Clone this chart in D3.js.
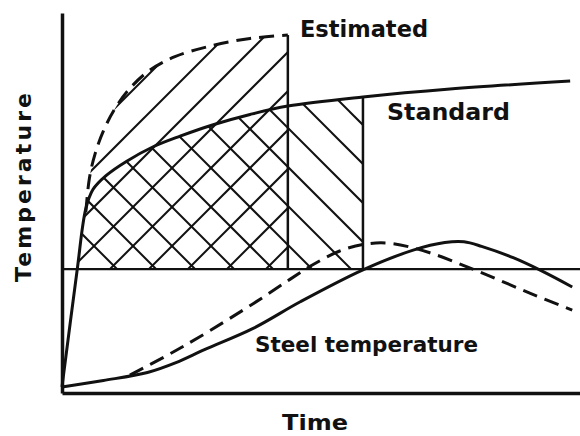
<!DOCTYPE html>
<html>
<head>
<meta charset="utf-8">
<script src="https://cdn.jsdelivr.net/npm/d3@7"></script>
<style>
  body { margin: 0; background: #fff; }
  text { font-family: "DejaVu Sans", sans-serif; font-weight: bold; fill: #111; }
</style>
</head>
<body>
<div id="chart"></div>
<script>
// time and temperature in arbitrary units (0-100)
const standardCurve = [[0, 1.6], [2.9, 32.1], [4.6, 48.5], [6.0, 53.6], [8.5, 57.2], [12.5, 61.0],
  [17.6, 64.8], [22.8, 67.6], [29.2, 70.6], [36.3, 73.3], [43.6, 75.5], [58.1, 77.9], [74.9, 80.0], [98.1, 82.1]];
const estimatedCurve = [[4.6, 47.6], [5.3, 56.6], [6.4, 63.0], [8.0, 69.0], [10.3, 75.0], [13.2, 80.3],
  [17.0, 85.0], [21.8, 88.5], [28.6, 91.3], [36.3, 93.3], [43.6, 94.2]];
const steelStandard = [[0, 1.6], [8.0, 3.3], [16.5, 5.4], [22.0, 8.0], [27.5, 11.4], [36.9, 17.0],
  [46.0, 24.0], [58.1, 32.4], [67.8, 37.6], [73.9, 39.6], [77.6, 39.8], [81.0, 38.6], [87.1, 35.6],
  [92.5, 32.2], [98.5, 27.9]];
const steelEstimated = [[13.1, 4.7], [19.9, 9.6], [26.6, 14.8], [36.9, 23.5], [44.0, 29.9], [48.5, 33.8],
  [53.5, 37.3], [58.1, 39.1], [63.3, 39.4], [71.0, 36.9], [80.7, 31.8], [90.3, 26.3], [98.5, 21.8]];
const criticalTemp = 32.6;   // horizontal line
const estimatedEnd = 43.6;   // end of estimated fire
const standardCut = 58.1;    // equivalent standard duration
const hatchStart = 2.9;

var width = 580, height = 436;
var svg = d3.select('#chart').append('svg')
	.attr('width', width)
	.attr('height', height);

var x = d3.scaleLinear().domain([0, 100]).range([62, 580]);
var y = d3.scaleLinear().domain([0, 100]).range([393, 13]);

var curve = d3.curveCatmullRom.alpha(0.5);

var line = d3.line()
	.x(function(d) { return x(d[0]); })
	.y(function(d) { return y(d[1]); })
	.curve(curve);

var area = d3.area()
	.x(function(d) { return x(d[0]); })
	.y0(y(criticalTemp))
	.y1(function(d) { return y(d[1]); })
	.curve(curve);

// clip regions for the hatching
var defs = svg.append('defs');
var clipStd = defs.append('clipPath').attr('id', 'under-std');
clipStd.append('path').attr('d', area(standardCurve));
var clipEst = defs.append('clipPath').attr('id', 'under-est');
clipEst.append('path').attr('d', area(standardCurve));
clipEst.append('path').attr('d', area(estimatedCurve));

function boxClip(id, t1) {
	defs.append('clipPath').attr('id', id).append('rect')
		.attr('x', x(hatchStart)).attr('width', x(t1) - x(hatchStart))
		.attr('y', y(100)).attr('height', y(criticalTemp) - y(100));
}
boxClip('box-est', estimatedEnd);
boxClip('box-std', standardCut);

var gap = 39;
var ks = d3.range(-16, 16);

// "/" hatching under the estimated curve
var g1 = svg.append('g').attr('clip-path', 'url(#box-est)')
	.append('g').attr('clip-path', 'url(#under-est)');
g1.selectAll('line').data(ks).enter().append('line')
	.attr('x1', 0).attr('x2', width)
	.attr('y1', function(k) { return 340 + gap * k; })
	.attr('y2', function(k) { return 340 + gap * k - width; })
	.attr('stroke', '#111').attr('stroke-width', 2);

// "\" hatching under the standard curve
var g2 = svg.append('g').attr('clip-path', 'url(#box-std)')
	.append('g').attr('clip-path', 'url(#under-std)');
g2.selectAll('line').data(ks).enter().append('line')
	.attr('x1', 0).attr('x2', width)
	.attr('y1', function(k) { return -199 + gap * k; })
	.attr('y2', function(k) { return -199 + gap * k + width; })
	.attr('stroke', '#111').attr('stroke-width', 2);

// axes (no ticks)
svg.append('g')
	.attr('transform', 'translate(0,' + y(0) + ')')
	.call(d3.axisBottom(x).ticks(0).tickSizeOuter(0))
	.select('.domain').attr('stroke', '#111').attr('stroke-width', 3.5);
svg.append('g')
	.attr('transform', 'translate(' + x(0) + ',0)')
	.call(d3.axisLeft(y).ticks(0).tickSizeOuter(0))
	.select('.domain').attr('stroke', '#111').attr('stroke-width', 3.5);

// horizontal and vertical reference lines
svg.append('line')
	.attr('x1', x(0)).attr('x2', x(100))
	.attr('y1', y(criticalTemp)).attr('y2', y(criticalTemp))
	.attr('stroke', '#111').attr('stroke-width', 2.2);

var estTop = estimatedCurve[estimatedCurve.length - 1][1];
var stdAtCut = standardCurve.find(function(d) { return d[0] === standardCut; })[1];
svg.append('line')
	.attr('x1', x(estimatedEnd)).attr('x2', x(estimatedEnd))
	.attr('y1', y(estTop)).attr('y2', y(criticalTemp))
	.attr('stroke', '#111').attr('stroke-width', 2.5);
svg.append('line')
	.attr('x1', x(standardCut)).attr('x2', x(standardCut))
	.attr('y1', y(stdAtCut)).attr('y2', y(criticalTemp))
	.attr('stroke', '#111').attr('stroke-width', 2.5);

// curves
var series = [
	{ data: standardCurve, dash: null },
	{ data: estimatedCurve, dash: '15,8' },
	{ data: steelStandard, dash: null },
	{ data: steelEstimated, dash: '15,8' }
];
svg.selectAll('path.curve').data(series).enter().append('path')
	.attr('class', 'curve')
	.attr('d', function(d) { return line(d.data); })
	.attr('fill', 'none')
	.attr('stroke', '#111')
	.attr('stroke-width', 3)
	.attr('stroke-dasharray', function(d) { return d.dash; });

// labels
var labels = [
	{ text: 'Estimated', x: 300, y: 37, size: 23, len: 128 },
	{ text: 'Standard', x: 387, y: 120, size: 23, len: 123 },
	{ text: 'Steel temperature', x: 255, y: 352, size: 22, len: 223 },
	{ text: 'Time', x: 282, y: 430, size: 21, len: 66 }
];
svg.selectAll('text.lbl').data(labels).enter().append('text')
	.attr('class', 'lbl')
	.attr('x', function(d) { return d.x; })
	.attr('y', function(d) { return d.y; })
	.attr('textLength', function(d) { return d.len; })
	.attr('lengthAdjust', 'spacingAndGlyphs')
	.style('font-size', function(d) { return d.size + 'px'; })
	.text(function(d) { return d.text; });

svg.append('text')
	.attr('transform', 'translate(31,282) rotate(-90)')
	.attr('textLength', 189)
	.attr('lengthAdjust', 'spacing')
	.style('font-size', '22px')
	.text('Temperature');
</script>
</body>
</html>
